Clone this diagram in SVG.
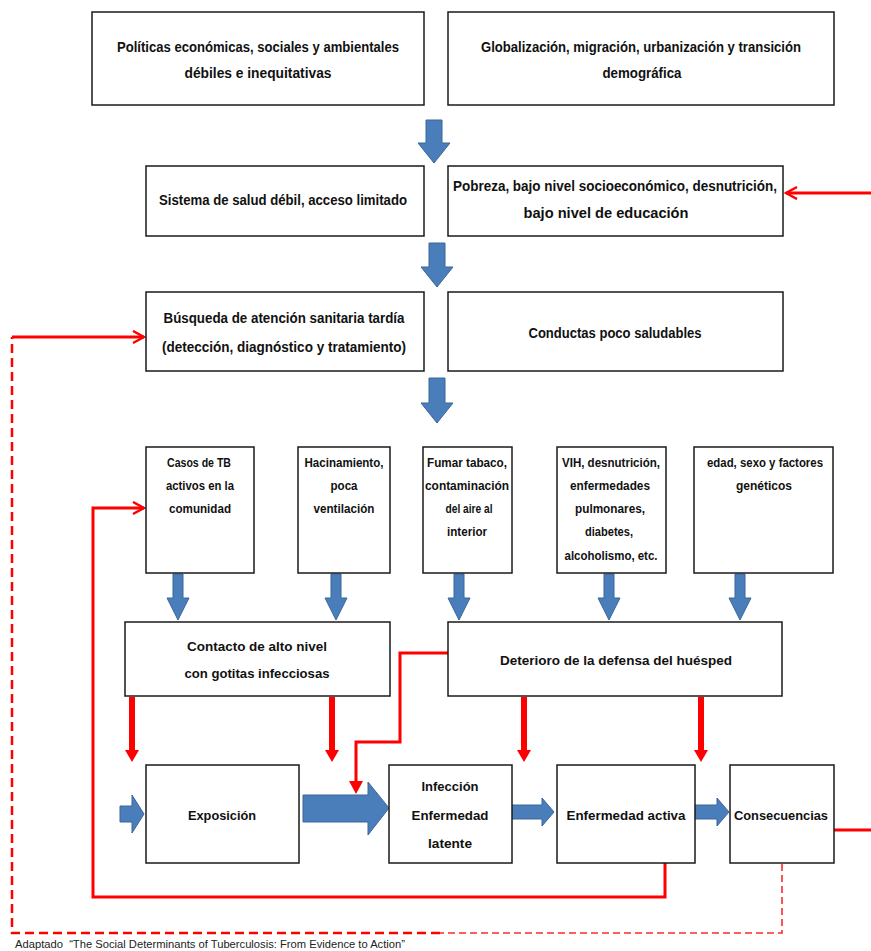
<svg xmlns="http://www.w3.org/2000/svg" width="871" height="951" viewBox="0 0 871 951">
<style>
.box{fill:#fff;stroke:#1a1a1a;stroke-width:1.5}
.t{font-family:"Liberation Sans Narrow","Liberation Sans",Arial,sans-serif;font-weight:bold;fill:#111;text-anchor:middle}
.big{font-size:14px}
.med{font-size:13.5px}
.sm{font-size:12px}
.blue{fill:#4a7ebb;stroke:#3a6699;stroke-width:1}
.redf{fill:#ff0000}
.rl{fill:none;stroke:#ff0000;stroke-width:3}
.rd{fill:none;stroke:#ff0000;stroke-width:2.5;stroke-dasharray:9 5}
.rdt{fill:none;stroke:#ff2a2a;stroke-width:1.6;stroke-dasharray:7 4}
.cap{font-family:"Liberation Sans Narrow","Liberation Sans",Arial,sans-serif;font-size:10.5px;fill:#222;white-space:pre}
</style>
<defs>
<marker id="vhead" markerUnits="userSpaceOnUse" markerWidth="14" markerHeight="16" refX="12" refY="7" orient="auto">
<path d="M1,1 L12,7 L1,13" fill="none" stroke="#ff0000" stroke-width="2.5"/>
</marker>
</defs>
<rect width="871" height="951" fill="#fff"/>

<g id="connectors">
<polygon class="blue" points="426,120 442,120 442,143 450,143 434,163 418,143 426,143"/>
<polygon class="blue" points="429,243 445,243 445,267 453,267 437,287 421,267 429,267"/>
<polygon class="blue" points="429,378 445,378 445,403 453,403 437,423 421,403 429,403"/>
<polygon class="blue" points="173,574 183,574 183,598 189,598 178,620 167,598 173,598"/>
<polygon class="blue" points="331,574 341,574 341,598 347,598 336,620 325,598 331,598"/>
<polygon class="blue" points="454,574 464,574 464,598 470,598 459,620 448,598 454,598"/>
<polygon class="blue" points="604,574 614,574 614,598 620,598 609,620 598,598 604,598"/>
<polygon class="blue" points="735,574 745,574 745,598 751,598 740,620 729,598 735,598"/>
<polygon class="blue" points="120,806 132,806 132,795 144,814 132,833 132,822 120,822"/>
<polygon class="blue" points="303,795 368,795 368,782 389,808 368,835 368,822 303,822"/>
<polygon class="blue" points="510,805 542,805 542,798 554,812 542,826 542,819 510,819"/>
<polygon class="blue" points="695,805 717,805 717,798 729,812 717,826 717,819 695,819"/>
<polygon class="redf" points="129,697 135,697 135,750 139,750 132,762 125,750 129,750"/>
<polygon class="redf" points="329,697 335,697 335,750 339,750 332,762 325,750 329,750"/>
<polygon class="redf" points="521,697 527,697 527,750 531,750 524,762 517,750 521,750"/>
<polygon class="redf" points="698,697 704,697 704,750 708,750 701,762 694,750 698,750"/>
<path class="rl" d="M448,653 H400 V742 H356 V782" stroke-width="3.5"/>
<polygon class="redf" points="349,781 363,781 356,794"/>
<path class="rl" d="M871,193 H786" marker-end="url(#vhead)"/>
<path class="rl" d="M834,830 H871"/>
<path class="rl" d="M665,863 V897 H93 V508 H144" marker-end="url(#vhead)"/>
<path class="rdt" d="M782,864 V933 H440"/>
<path class="rd" d="M440,933 H12 V337"/>
<path class="rl" d="M12,337 H144" marker-end="url(#vhead)"/>
</g>

<g id="n-politicas">
<rect class="box" x="92" y="12" width="332" height="93"/>
<text class="t big" x="258" y="52" textLength="282" lengthAdjust="spacingAndGlyphs">Políticas económicas, sociales y ambientales</text>
<text class="t big" x="258" y="78" textLength="147" lengthAdjust="spacingAndGlyphs">débiles e inequitativas</text>
</g>
<g id="n-globalizacion">
<rect class="box" x="448" y="12" width="386" height="93"/>
<text class="t big" x="641" y="52" textLength="320" lengthAdjust="spacingAndGlyphs">Globalización, migración, urbanización y transición</text>
<text class="t big" x="642" y="78" textLength="79" lengthAdjust="spacingAndGlyphs">demográfica</text>
</g>
<g id="n-sistema">
<rect class="box" x="146" y="166" width="278" height="70"/>
<text class="t big" x="283" y="205" textLength="248" lengthAdjust="spacingAndGlyphs">Sistema de salud débil, acceso limitado</text>
</g>
<g id="n-pobreza">
<rect class="box" x="448" y="166" width="335" height="70"/>
<text class="t big" x="615" y="191" textLength="324" lengthAdjust="spacingAndGlyphs">Pobreza, bajo nivel socioeconómico, desnutrición,</text>
<text class="t big" x="606" y="218" textLength="165" lengthAdjust="spacingAndGlyphs">bajo nivel de educación</text>
</g>
<g id="n-busqueda">
<rect class="box" x="146" y="292" width="278" height="79"/>
<text class="t big" x="284" y="323" textLength="241" lengthAdjust="spacingAndGlyphs">Búsqueda de atención sanitaria tardía</text>
<text class="t big" x="284" y="352" textLength="244" lengthAdjust="spacingAndGlyphs">(detección, diagnóstico y tratamiento)</text>
</g>
<g id="n-conductas">
<rect class="box" x="448" y="292" width="335" height="79"/>
<text class="t big" x="615" y="338" textLength="173" lengthAdjust="spacingAndGlyphs">Conductas poco saludables</text>
</g>
<g id="n-casos">
<rect class="box" x="146" y="447" width="108" height="126"/>
<text class="t sm" x="199" y="467" textLength="64" lengthAdjust="spacingAndGlyphs">Casos de TB</text>
<text class="t sm" x="200" y="490" textLength="68" lengthAdjust="spacingAndGlyphs">activos en la</text>
<text class="t sm" x="200" y="513" textLength="62" lengthAdjust="spacingAndGlyphs">comunidad</text>
</g>
<g id="n-hacinamiento">
<rect class="box" x="298" y="447" width="92" height="126"/>
<text class="t sm" x="344" y="467" textLength="79" lengthAdjust="spacingAndGlyphs">Hacinamiento,</text>
<text class="t sm" x="344" y="490" textLength="27" lengthAdjust="spacingAndGlyphs">poca</text>
<text class="t sm" x="344" y="513" textLength="61" lengthAdjust="spacingAndGlyphs">ventilación</text>
</g>
<g id="n-fumar">
<rect class="box" x="423" y="447" width="89" height="126"/>
<text class="t sm" x="467" y="467" textLength="80" lengthAdjust="spacingAndGlyphs">Fumar tabaco,</text>
<text class="t sm" x="467" y="490" textLength="84" lengthAdjust="spacingAndGlyphs">contaminación</text>
<text class="t sm" x="469" y="513" textLength="47" lengthAdjust="spacingAndGlyphs">del aire al</text>
<text class="t sm" x="467" y="536" textLength="40" lengthAdjust="spacingAndGlyphs">interior</text>
</g>
<g id="n-vih">
<rect class="box" x="557" y="447" width="109" height="126"/>
<text class="t sm" x="611" y="467" textLength="98" lengthAdjust="spacingAndGlyphs">VIH, desnutrición,</text>
<text class="t sm" x="610" y="490" textLength="80" lengthAdjust="spacingAndGlyphs">enfermedades</text>
<text class="t sm" x="610" y="513" textLength="70" lengthAdjust="spacingAndGlyphs">pulmonares,</text>
<text class="t sm" x="609" y="536" textLength="48" lengthAdjust="spacingAndGlyphs">diabetes,</text>
<text class="t sm" x="611" y="560" textLength="93" lengthAdjust="spacingAndGlyphs">alcoholismo, etc.</text>
</g>
<g id="n-edad">
<rect class="box" x="694" y="447" width="139" height="126"/>
<text class="t sm" x="765" y="467" textLength="116" lengthAdjust="spacingAndGlyphs">edad, sexo y factores</text>
<text class="t sm" x="764" y="490" textLength="56" lengthAdjust="spacingAndGlyphs">genéticos</text>
</g>
<g id="n-contacto">
<rect class="box" x="125" y="622" width="265" height="74"/>
<text class="t med" x="257" y="651" textLength="140" lengthAdjust="spacingAndGlyphs">Contacto de alto nivel</text>
<text class="t med" x="257" y="678" textLength="145" lengthAdjust="spacingAndGlyphs">con gotitas infecciosas</text>
</g>
<g id="n-deterioro">
<rect class="box" x="448" y="622" width="334" height="74"/>
<text class="t med" x="616" y="665" textLength="232" lengthAdjust="spacingAndGlyphs">Deterioro de la defensa del huésped</text>
</g>
<g id="n-exposicion">
<rect class="box" x="146" y="765" width="153" height="98"/>
<text class="t med" x="222" y="820" textLength="68" lengthAdjust="spacingAndGlyphs">Exposición</text>
</g>
<g id="n-infeccion">
<rect class="box" x="389" y="765" width="123" height="98"/>
<text class="t med" x="450" y="791" textLength="57" lengthAdjust="spacingAndGlyphs">Infección</text>
<text class="t med" x="450" y="820" textLength="77" lengthAdjust="spacingAndGlyphs">Enfermedad</text>
<text class="t med" x="450" y="848" textLength="44" lengthAdjust="spacingAndGlyphs">latente</text>
</g>
<g id="n-enfermedad">
<rect class="box" x="557" y="765" width="138" height="98"/>
<text class="t med" x="626" y="820" textLength="119" lengthAdjust="spacingAndGlyphs">Enfermedad activa</text>
</g>
<g id="n-consecuencias">
<rect class="box" x="730" y="765" width="104" height="98"/>
<text class="t med" x="781" y="820" textLength="94" lengthAdjust="spacingAndGlyphs">Consecuencias</text>
</g>
<text class="cap" x="15" y="948" textLength="390" lengthAdjust="spacingAndGlyphs" xml:space="preserve">Adaptado  “The Social Determinants of Tuberculosis: From Evidence to Action”</text>
</svg>
